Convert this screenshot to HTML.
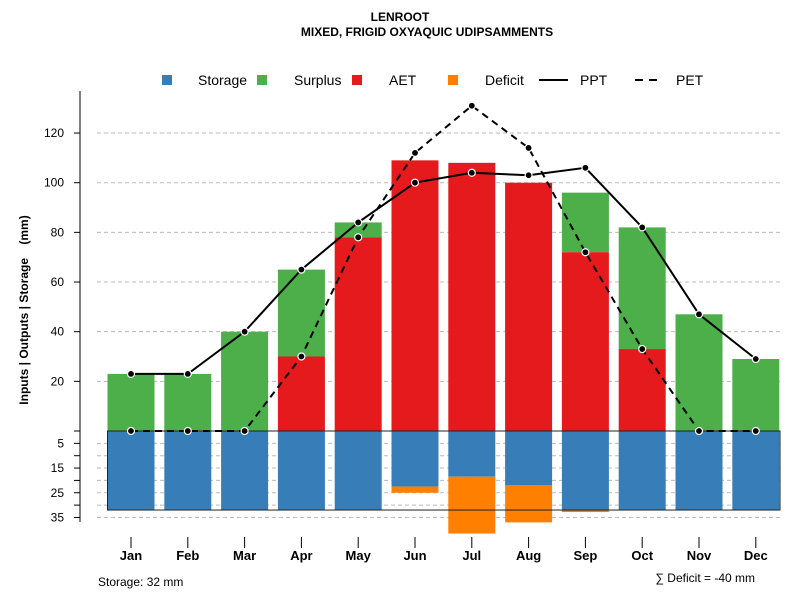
<!DOCTYPE html>
<html><head><meta charset="utf-8"><style>
body{margin:0;background:#fff}
svg{font-family:"Liberation Sans",sans-serif}
</style></head><body>
<svg id="c" width="800" height="600" xmlns="http://www.w3.org/2000/svg"></svg>
<script>
const months=["Jan","Feb","Mar","Apr","May","Jun","Jul","Aug","Sep","Oct","Nov","Dec"];
const ppt=[23,23,40,65,84,100,104,103,106,82,47,29];
const pet=[0,0,0,30,78,112,131,114,72,33,0,0];
const aet=[0,0,0,30,78,109,108,100,72,33,0,0];
const surplusTop=[23,23,40,65,84,109,108,100,96,82,47,29];
const storage=[32,32,32,32,32,22.5,18.5,22,32,32,32,32];
const deficit=[0,0,0,0,0,2.5,23,15,0.8,0,0,0];
const upTicks=[20,40,60,80,100,120];
const lowTicks=[5,15,25,35];
const svg=document.getElementById('c');
const NS="http://www.w3.org/2000/svg";
const y0=431,k=2.483;
const yU=v=>y0-v*k, yL=v=>y0+v*2.47;
const xC=i=>131+i*56.8;
const bw=47;
function el(t,a,p){const e=document.createElementNS(NS,t);for(const n in a)e.setAttribute(n,a[n]);(p||svg).appendChild(e);return e;}
function tx(x,y,s,a){const e=el('text',Object.assign({x:x,y:y},a));e.textContent=s;return e;}
let t=tx(400,21,"LENROOT",{"text-anchor":"middle","font-size":12,"font-weight":"bold"});

t=tx(427,36,"MIXED, FRIGID OXYAQUIC UDIPSAMMENTS",{"text-anchor":"middle","font-size":12,"font-weight":"bold"});

upTicks.forEach(v=>{const g=el('line',{x1:97,x2:780,y1:yU(v),y2:yU(v),stroke:"#bbb","stroke-dasharray":"4,3"});
});
for(let v=5;v<=35;v+=5){const g=el('line',{x1:97,x2:780,y1:yL(v),y2:yL(v),stroke:"#bbb","stroke-dasharray":"4,3"});
}
months.forEach((m,i)=>{
 const x=xC(i)-bw/2;
 let r;
 if(surplusTop[i]>aet[i]){r=el('rect',{x:x,y:yU(surplusTop[i]),width:bw,height:(surplusTop[i]-aet[i])*k,fill:"#4daf4a"});
 }
 if(aet[i]>0){r=el('rect',{x:x,y:yU(aet[i]),width:bw,height:aet[i]*k,fill:"#e41a1c"});
 }
 r=el('rect',{x:x,y:y0,width:bw,height:storage[i]*2.47,fill:"#377eb8"});
 
 if(deficit[i]>0){r=el('rect',{x:x,y:yL(storage[i]),width:bw,height:deficit[i]*2.47,fill:"#ff7f00"});
 }
 let l=el('line',{x1:xC(i),x2:xC(i),y1:537,y2:548,stroke:"#000"});
 
 t=tx(xC(i),560,m,{"text-anchor":"middle","font-size":13,"font-weight":"bold"});
 
});
let b=el('rect',{x:xC(0)-bw/2,y:y0,width:780-(xC(0)-bw/2),height:32*2.47,fill:"none",stroke:"#222","stroke-width":1});

function line(arr,dash,name){
 const d=arr.map((v,i)=>(i?'L':'M')+xC(i)+','+yU(v)).join('');
 const p=el('path',{d:d,fill:"none",stroke:"#000","stroke-width":2,"stroke-dasharray":dash});
 
 arr.forEach((v,i)=>{const c=el('circle',{cx:xC(i),cy:yU(v),r:3.5,fill:"#000",stroke:"#fff","stroke-width":1.2});
 });
}
line(pet,"7,5","pet");
line(ppt,"none","ppt");
let ax=el('line',{x1:80,x2:80,y1:91,y2:522,stroke:"#000"});

upTicks.forEach(v=>{el('line',{x1:74,x2:80,y1:yU(v),y2:yU(v),stroke:"#000"});
 t=tx(64,yU(v)+4,v,{"text-anchor":"end","font-size":12});});
for(let v=0;v<=35;v+=5){el('line',{x1:74,x2:80,y1:yL(v),y2:yL(v),stroke:"#000"});}
lowTicks.forEach(v=>{t=tx(64,yL(v)+4,v,{"text-anchor":"end","font-size":12});});
t=tx(0,0,"Inputs | Outputs | Storage    (mm)",{"font-size":12,"font-weight":"bold","text-anchor":"middle",style:"white-space:pre",transform:"translate(28,310) rotate(-90)"});

const lg=[["Storage","#377eb8",167,198],["Surplus","#4daf4a",262,294],["AET","#e41a1c",357,389],["Deficit","#ff7f00",453,485]];
lg.forEach(a=>{let r=el('rect',{x:a[2]-5,y:75,width:10,height:10,fill:a[1]});
 t=tx(a[3],85,a[0],{"font-size":14});});
let ll=el('line',{x1:539,x2:568,y1:80,y2:80,stroke:"#000","stroke-width":2});
t=tx(580,85,"PPT",{"font-size":14});
ll=el('line',{x1:635,x2:662,y1:80,y2:80,stroke:"#000","stroke-width":2,"stroke-dasharray":"8,6"});
t=tx(676,85,"PET",{"font-size":14});
t=tx(98,586,"Storage: 32 mm",{"font-size":12});
t=tx(755,582,"\u2211 Deficit = -40 mm",{"font-size":12,"text-anchor":"end"});
</script>
</body></html>
